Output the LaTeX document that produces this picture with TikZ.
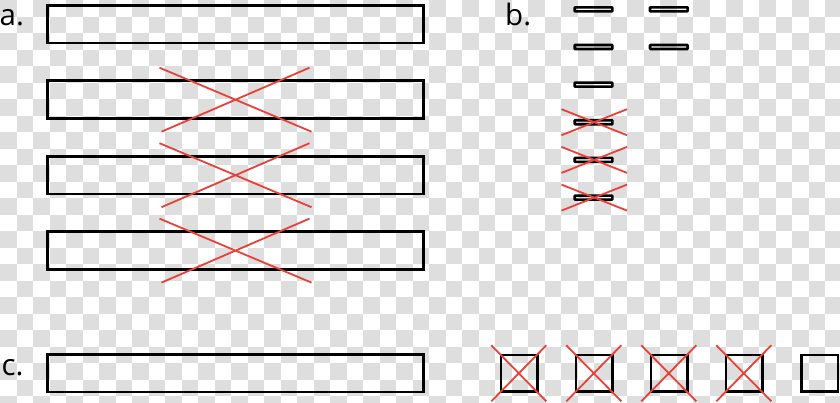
\documentclass[tikz,border=0pt]{standalone}
\usepackage{fontspec}
\setmainfont{Open Sans}
\definecolor{chk}{RGB}{222,222,222}
\definecolor{xred}{RGB}{232,65,58}
\tikzset{
  bigbox/.style={draw=black,line width=2.8pt,minimum width=376pt,minimum height=37.7pt,inner sep=0pt,outer sep=0pt},
  barbox/.style={draw=black,line width=2.6pt,minimum width=37.6pt,minimum height=4pt,inner sep=0pt,outer sep=0pt,rounded corners=0.6pt},
  sqbox/.style={draw=black,line width=2.8pt,minimum width=36.7pt,minimum height=36.7pt,inner sep=0pt,outer sep=0pt},
  cross/.style={draw=xred,line width=1.8pt},
  lbl/.style={anchor=base west,inner sep=0pt,font=\fontsize{29.5}{34}\selectfont}
}
\begin{document}
\begin{tikzpicture}[x=1pt,y=-1pt]
\clip (0,0) rectangle (840,402);
\fill[white] (0,0) rectangle (840,402);
\foreach \j in {0,...,24}{
  \foreach \k in {0,...,25}{
    \fill[chk] ({(2*\k+mod(\j,2))*16.5},{\j*16.5}) rectangle +(16.5,16.5);
  }
}
% labels
\node[lbl] (la) at (-0.5,25) {a.};
\node[lbl] (lb) at (505,25) {b.};
\node[lbl] (lc) at (1.5,375) {c.};
% a. rectangles
\node[bigbox] (r1) at (235.5,24.2) {};
\node[bigbox] (r2) at (235.5,99.7) {};
\node[bigbox] (r3) at (235.5,175.2) {};
\node[bigbox] (r4) at (235.5,250.6) {};
\foreach \n in {r2,r3,r4}{
  \draw[cross,shift={(\n.center)}] (-76,-32) -- (76,32) (-74,32) -- (74,-32);
}
% b. bars
\node[barbox] (b1) at (593.5,9.3) {};
\node[barbox] (b2) at (593.5,47) {};
\node[barbox] (b3) at (593.5,84.6) {};
\node[barbox] (b4) at (593.5,122.2) {};
\node[barbox] (b5) at (593.5,159.9) {};
\node[barbox] (b6) at (593.5,197.6) {};
\node[barbox] (b7) at (668.8,9.3) {};
\node[barbox] (b8) at (668.8,47) {};
\foreach \n in {b4,b5,b6}{
  \draw[cross,shift={(\n.center)}] (-32,-13) -- (33.5,13) (-32,13) -- (33.5,-13);
}
% c.
\node[bigbox] (rc) at (235.5,373.1) {};
\node[sqbox] (s1) at (519.3,373.3) {};
\node[sqbox] (s2) at (594.3,373.3) {};
\node[sqbox] (s3) at (669.3,373.3) {};
\node[sqbox] (s4) at (744.3,373.3) {};
\node[sqbox] (s5) at (819.6,373.3) {};
\foreach \n in {s1,s2,s3,s4}{
  \draw[cross,shift={(\n.center)}] (-28,-28) -- (27,28) (-28,28) -- (27,-28);
}
\end{tikzpicture}
\end{document}
